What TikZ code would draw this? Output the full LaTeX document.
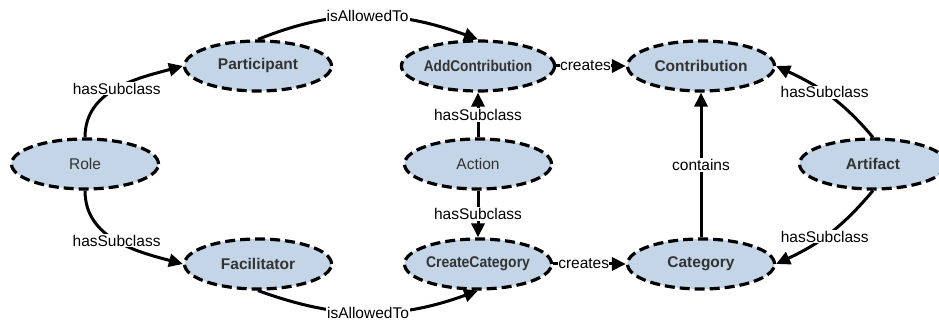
\documentclass[tikz,border=0pt]{standalone}
\usepackage{fontspec}
\setmainfont{Liberation Sans}
\usetikzlibrary{shapes.geometric}
\usetikzlibrary{arrows.meta}
\definecolor{classfill}{HTML}{C3D5E7}
\definecolor{classtext}{HTML}{333333}
\newcommand{\Fs}{\fontsize{15.5}{18}\selectfont}
\newcommand{\Sq}[2]{\scalebox{#1}[1]{#2}}
\tikzset{
  class/.style={ellipse, draw=black, line width=3.2pt, dash pattern=on 10pt off 5pt,
    fill=classfill, text=classtext, minimum width=147pt, minimum height=50pt,
    inner sep=0pt, font=\Fs\bfseries},
  plainclass/.style={class, font=\Fs},
  rel/.style={line width=3pt, -{Triangle[length=14pt,width=13pt]}},
  rellabel/.style={fill=white, inner sep=1pt, font=\Fs, text=black}
}

\begin{document}
\begin{tikzpicture}[x=1pt,y=1pt]
\useasboundingbox (0,0) rectangle (939,320);

%%%%%%%%%%%%%%%%%%%%%%%%%%%%%%%%%%%%%%%%%%%%%%%%%%%%%%%%%%%%%% classes
\node[plainclass] (role) at (85,156) {Role};
\node[class] (participant) at (258,254) {Participant};
\node[class] (facilitator) at (258,56) {Facilitator};
\node[class] (addcontrib) at (478,254) {\Sq{0.88}{AddContribution}};
\node[plainclass] (action) at (478,156) {Action};
\node[class] (createcat) at (478,56) {\Sq{0.9}{CreateCategory}};
\node[class] (contribution) at (701,254) {Contribution};
\node[class] (category) at (701,56) {Category};
\node[class] (artifact) at (873,156) {Artifact};

%%%%%%%%%%%%%%%%%%%%%%%%%%%%%%%%%%%%%%%%%%%%%%%%%%%%%%%%%%%%%% subclasses
\draw[rel] (role.north) to[out=90,in=195] node[rellabel] {hasSubclass} (participant.west);
\draw[rel] (role.south) to[out=-90,in=165] node[rellabel] {hasSubclass} (facilitator.west);
\draw[rel] (action) -- node[rellabel] {hasSubclass} (addcontrib);
\draw[rel] (action) -- node[rellabel] {hasSubclass} (createcat);
\draw[rel] (artifact.north) to[out=130,in=-25] node[rellabel,pos=0.55] {hasSubclass} (contribution.east);
\draw[rel] (artifact.south) to[out=-130,in=25] node[rellabel,pos=0.55] {hasSubclass} (category.east);

%%%%%%%%%%%%%%%%%%%%%%%%%%%%%%%%%%%%%%%%%%%%%%%%%%%%%%%%%%%%%% other relations
\draw[rel] (participant.north) to[out=22,in=160] node[rellabel] {isAllowedTo} (addcontrib.north);
\draw[rel] (facilitator.south) to[out=-20,in=-160] node[rellabel] {isAllowedTo} (createcat.south);
\draw[rel] (addcontrib) -- node[rellabel,inner sep=0pt,pos=0.42] {creates} (contribution);
\draw[rel] (createcat) -- node[rellabel,inner sep=0pt,pos=0.42] {creates} (category);
\draw[rel] (category) -- node[rellabel] {contains} (contribution);

\end{tikzpicture}
\end{document}
